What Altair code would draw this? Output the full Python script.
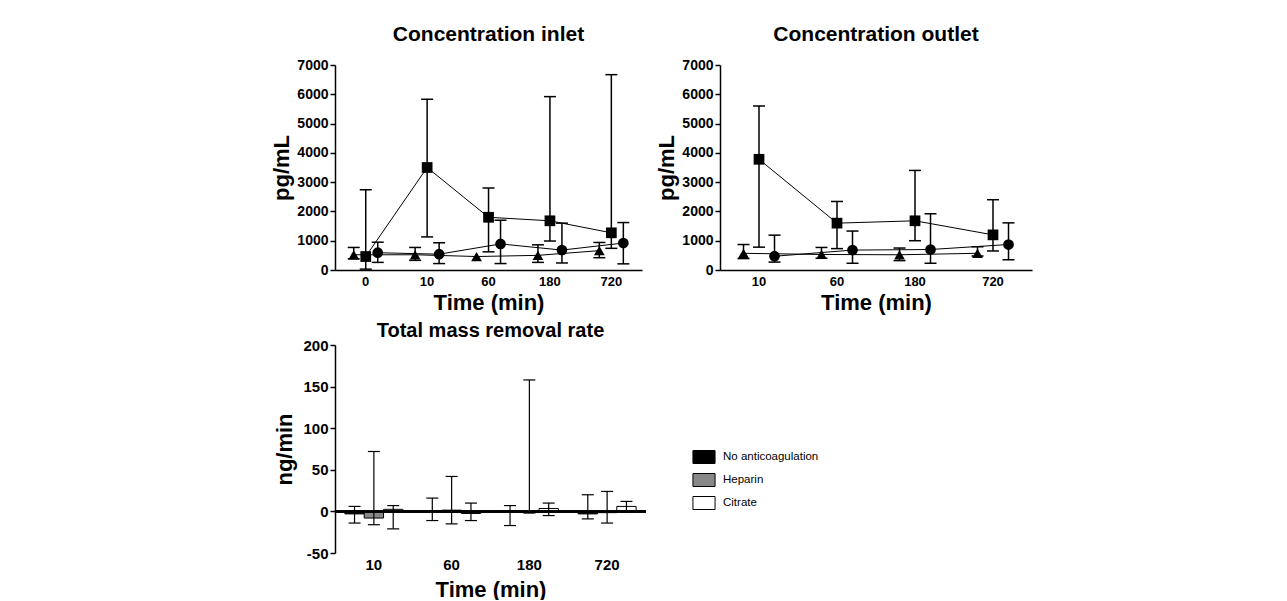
import altair as alt
import pandas as pd

FONT = "Liberation Sans"
groups = ["No anticoagulation", "Heparin", "Citrate"]
shapes = ["triangle-up", "square", "circle"]

# ---- Concentration inlet ----
inlet_times = ["0", "10", "60", "180", "720"]
inlet_none = [520, 520, 460, 500, 660]
inlet_none_hi = [770, 770, None, 860, 940]
inlet_none_lo = [380, 330, None, 260, 420]
inlet_hep = [460, 3500, 1800, 1680, 1270]
inlet_hep_hi = [2740, 5830, 2800, 5920, 6670]
inlet_hep_lo = [30, 1130, 620, 990, 740]
inlet_cit = [590, 540, 890, 680, 920]
inlet_cit_hi = [950, 930, 1700, 1600, 1620]
inlet_cit_lo = [260, 220, 220, 240, 210]

# ---- Concentration outlet ----
outlet_times = ["10", "60", "180", "720"]
outlet_none = [570, 530, 520, 570]
outlet_none_hi = [870, 770, 750, 790]
outlet_none_lo = [390, 400, 320, 480]
outlet_hep = [3780, 1600, 1680, 1200]
outlet_hep_hi = [5600, 2340, 3400, 2400]
outlet_hep_lo = [780, 730, 1000, 650]
outlet_cit = [470, 680, 700, 870]
outlet_cit_hi = [1190, 1330, 1920, 1610]
outlet_cit_lo = [270, 230, 230, 350]

# ---- Total mass removal rate ----
bar_times = ["10", "60", "180", "720"]
bar_none = [-3, 0.3, 0.5, -3]
bar_none_hi = [6, 16, 7, 20]
bar_none_lo = [-14, -11, -17, -9]
bar_hep = [-8, 1.5, -1, -1.5]
bar_hep_hi = [72, 42, 158, 24]
bar_hep_lo = [-16, -15, -2, -14]
bar_cit = [2.5, -2.5, 3.5, 6]
bar_cit_hi = [7, 10, 10, 12]
bar_cit_lo = [-21, -11, -5, -1]

inlet_ticks = [0, 1000, 2000, 3000, 4000, 5000, 6000, 7000]
bar_ticks = [-50, 0, 50, 100, 150, 200]


def make_df(times, series, gname):
    rows = []
    for g, (m, hi, lo) in zip(groups, series):
        for t, a, b, c in zip(times, m, hi, lo):
            rows.append({"time": t, gname: g, "value": a, "hi": b, "lo": c})
    return pd.DataFrame(rows)


inlet_df = make_df(inlet_times, [(inlet_none, inlet_none_hi, inlet_none_lo),
                                 (inlet_hep, inlet_hep_hi, inlet_hep_lo),
                                 (inlet_cit, inlet_cit_hi, inlet_cit_lo)], "group")
outlet_df = make_df(outlet_times, [(outlet_none, outlet_none_hi, outlet_none_lo),
                                   (outlet_hep, outlet_hep_hi, outlet_hep_lo),
                                   (outlet_cit, outlet_cit_hi, outlet_cit_lo)], "group")
bar_df = make_df(bar_times, [(bar_none, bar_none_hi, bar_none_lo),
                             (bar_hep, bar_hep_hi, bar_hep_lo),
                             (bar_cit, bar_cit_hi, bar_cit_lo)], "treatment")

LABEL_EXPR = "'' + datum.value"


def y_axis(title, values, label_size, title_pad=3):
    return alt.Axis(title=title, values=values, grid=False, titleFont=FONT,
                    titleFontSize=22, titleFontWeight="bold", titleColor="black",
                    titlePadding=title_pad, labelFont=FONT, labelFontSize=label_size,
                    labelFontWeight="bold", labelColor="black", labelPadding=2,
                    labelOverlap=False, labelExpr=LABEL_EXPR,
                    domainColor="black", domainWidth=1.5, tickColor="black",
                    tickWidth=1.5, tickSize=5)


def x_axis(label_size, domain=True, label_pad=5, title_pad=4):
    return alt.Axis(title="Time (min)", labelAngle=0, ticks=False, domain=domain,
                    grid=False, titleFont=FONT, titleFontSize=22,
                    titleFontWeight="bold", titleColor="black", titlePadding=title_pad,
                    labelFont=FONT, labelFontSize=label_size, labelFontWeight="bold",
                    labelColor="black", labelPadding=label_pad, domainColor="black",
                    domainWidth=1.5)


def line_panel(df, times, title, width, pinner, offset_span):
    x = alt.X("time:N", sort=times,
              scale=alt.Scale(paddingInner=pinner, paddingOuter=pinner / 2),
              axis=x_axis(13))
    xo = alt.XOffset("group:N", sort=groups,
                     scale=alt.Scale(domain=groups, range=[0, offset_span],
                                     paddingInner=0, paddingOuter=0))
    y_scale = alt.Scale(domain=[0, 7000], nice=False)
    yax = y_axis("pg/mL", inlet_ticks, 14)
    y = alt.Y("value:Q", scale=y_scale, axis=yax)
    base = alt.Chart(df)
    lines = base.mark_line(color="black", strokeWidth=1).encode(
        x=x, xOffset=xo, y=y, detail="group:N")
    rules = base.mark_rule(color="black", strokeWidth=1.5).encode(
        x=x, xOffset=xo, y=alt.Y("lo:Q", scale=y_scale, axis=yax), y2="hi:Q")
    cap_hi = base.mark_tick(color="black", thickness=1.5, size=12, opacity=1).encode(
        x=x, xOffset=xo, y=alt.Y("hi:Q", scale=y_scale, axis=yax))
    cap_lo = base.mark_tick(color="black", thickness=1.5, size=12, opacity=1).encode(
        x=x, xOffset=xo, y=alt.Y("lo:Q", scale=y_scale, axis=yax))
    pts = base.mark_point(filled=True, color="black", size=115, opacity=1).encode(
        x=x, xOffset=xo, y=y,
        shape=alt.Shape("group:N", scale=alt.Scale(domain=groups, range=shapes),
                        legend=None))
    return alt.layer(lines, rules, cap_hi, cap_lo, pts).properties(
        width=width, height=205,
        title=alt.TitleParams(title, font=FONT, fontSize=21, fontWeight="bold",
                              color="black", anchor="middle", offset=13))


inlet = line_panel(inlet_df, inlet_times, "Concentration inlet", 307, 0.415, 36)
outlet = line_panel(outlet_df, outlet_times, "Concentration outlet", 312, 0.404, 46.5)

# bar panel
bx = alt.X("time:N", sort=bar_times,
           scale=alt.Scale(paddingInner=0.254, paddingOuter=0.127),
           axis=x_axis(15, domain=False, label_pad=4, title_pad=7))
bxo = alt.XOffset("treatment:N", sort=groups,
                  scale=alt.Scale(domain=groups, range=[0, 58],
                                  paddingInner=0, paddingOuter=0))
by_scale = alt.Scale(domain=[-50, 200], nice=False)
byax = y_axis("ng/min", bar_ticks, 15, title_pad=6)
by = alt.Y("value:Q", scale=by_scale, axis=byax)
bbase = alt.Chart(bar_df)
bars = bbase.mark_bar(stroke="black", strokeWidth=1).encode(
    x=bx, xOffset=bxo, y=by,
    fill=alt.Fill("treatment:N",
                  scale=alt.Scale(domain=groups, range=["#000000", "#888888", "#ffffff"]),
                  legend=alt.Legend(title=None, orient="none", legendX=362, legendY=105,
                                    symbolType="M-1.7,-1H1.7V1H-1.7Z", symbolSize=169,
                                    symbolStrokeColor="black", symbolStrokeWidth=1,
                                    labelFont=FONT, labelFontSize=11.5, labelColor="black",
                                    labelOffset=12, rowPadding=5, padding=0)))
zero = alt.Chart(bar_df).mark_rule(color="black", strokeWidth=1.5).encode(
    y=alt.datum(0, scale=by_scale, axis=byax))
brules = bbase.mark_rule(color="black", strokeWidth=1.2).encode(
    x=bx, xOffset=bxo, y=alt.Y("lo:Q", scale=by_scale, axis=byax), y2="hi:Q")
bcap_hi = bbase.mark_tick(color="black", thickness=1.2, size=12, opacity=1).encode(
    x=bx, xOffset=bxo, y=alt.Y("hi:Q", scale=by_scale, axis=byax))
bcap_lo = bbase.mark_tick(color="black", thickness=1.2, size=12, opacity=1).encode(
    x=bx, xOffset=bxo, y=alt.Y("lo:Q", scale=by_scale, axis=byax))
bar_panel = alt.layer(bars, zero, brules, bcap_hi, bcap_lo).properties(
    width=311, height=208,
    title=alt.TitleParams("Total mass removal rate", font=FONT, fontSize=20,
                          fontWeight="bold", color="black", anchor="middle", offset=-3))

top = alt.hconcat(inlet, outlet, spacing=13).resolve_scale(xOffset="independent")
chart = alt.vconcat(top, bar_panel, spacing=8).resolve_scale(
    fill="independent", shape="independent", xOffset="independent"
).properties(
    padding={"left": 262, "top": 16, "right": 5, "bottom": 0},
    background="white",
).configure_view(stroke=None)

chart.save("out.html", embed_options={"renderer": "svg", "actions": False})
